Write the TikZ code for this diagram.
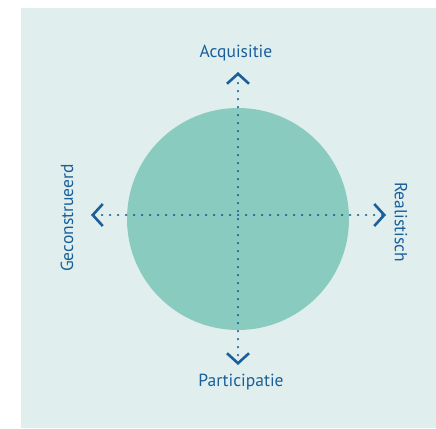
\documentclass[tikz,border=0pt]{standalone}
\usepackage{fontspec}
\setmainfont{PT Sans}
\usetikzlibrary{arrows.meta}
\definecolor{bgteal}{HTML}{E0EFEE}
\definecolor{discteal}{HTML}{8ACBBF}
\definecolor{axisblue}{HTML}{1A5E9A}
\begin{document}
\begin{tikzpicture}[x=1pt, y=-1pt,
  axis/.style={axisblue, line width=2.6pt, line cap=round, dash pattern=on 0.1pt off 7.9pt,
    {Straight Barb[length=10pt,width=22pt,line width=2.6pt]}-{Straight Barb[length=10pt,width=22pt,line width=2.6pt]}},
  axislabel/.style={text=axisblue, font=\fontsize{17.5}{20}\selectfont, inner sep=0pt}]
\useasboundingbox (0,0) rectangle (436,428);
\fill[bgteal] (21,8) rectangle (436,428);
\node (disc) [circle, fill=discteal, minimum size=222pt, inner sep=0pt] at (238,219) {};
\coordinate (top) at (238,72);
\coordinate (bottom) at (238,365);
\coordinate (left) at (91,215);
\coordinate (right) at (386,215);
\node (acq) [axislabel] at (236,53) {Acquisitie};
\node (par) [axislabel] at (241,382) {Participatie};
\node (gec) [axislabel, rotate=90] at (67,218) {Geconstrueerd};
\node (rea) [axislabel, rotate=-90] at (401,222) {Realistisch};
\draw[axis] (top) -- (bottom);
\draw[axis] (left) -- (right);
\end{tikzpicture}
\end{document}
